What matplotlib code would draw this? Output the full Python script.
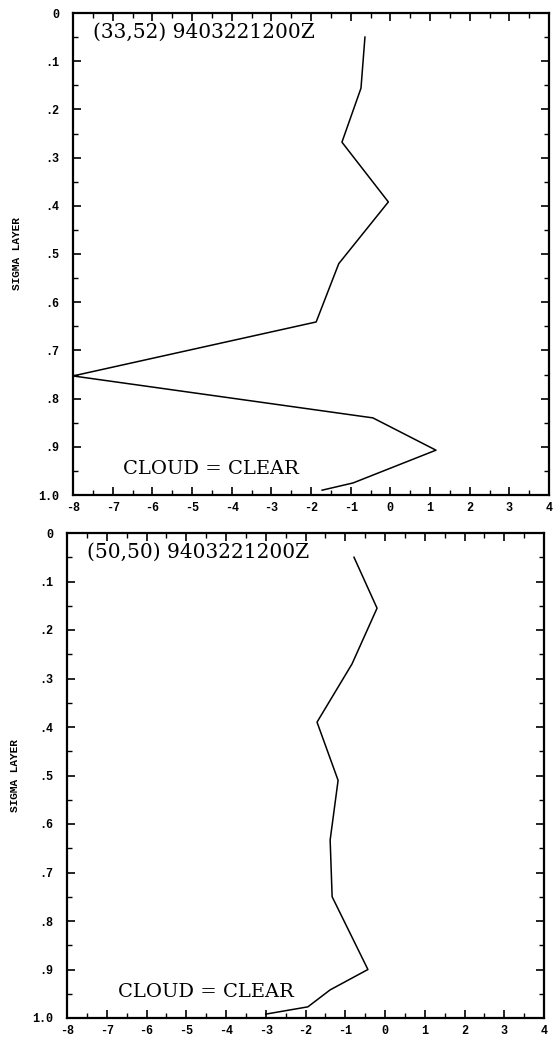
import matplotlib
matplotlib.use('Agg')
import matplotlib.pyplot as plt
from matplotlib.ticker import MultipleLocator

# sigma-layer profiles
sigma_a = [0.05, 0.156, 0.268, 0.392, 0.52, 0.641, 0.753, 0.84, 0.907, 0.975, 0.99]
val_a   = [-0.64, -0.74, -1.22, -0.05, -1.3, -1.87, -8.0, -0.44, 1.15, -0.94, -1.72]

sigma_b = [0.05, 0.155, 0.27, 0.39, 0.51, 0.633, 0.75, 0.90, 0.942, 0.977, 0.992]
val_b   = [-0.78, -0.2, -0.83, -1.71, -1.18, -1.38, -1.33, -0.43, -1.38, -1.94, -3.0]

titles = ['(33,52) 9403221200Z', '(50,50) 9403221200Z']
cloud_text = 'CLOUD = CLEAR'

xticks = list(range(-8, 5))
xlabels = [str(v) for v in xticks]
yticks = [0, .1, .2, .3, .4, .5, .6, .7, .8, .9, 1.0]
ylabels = ['0', '.1', '.2', '.3', '.4', '.5', '.6', '.7', '.8', '.9', '1.0']

tickfont = {'family': 'Liberation Mono', 'weight': 'bold', 'size': 8.5}

fig = plt.figure(figsize=(5.6, 10.41), dpi=100)

### panel positions (fig fraction)
pos = [[73/560, 1-495/1041, 476/560, 482/1041],
       [67/560, 1-1018/1041, 477/560, 485/1041]]
ylab_x = [-0.107, -0.099]

for i, (sig, val) in enumerate([(sigma_a, val_a), (sigma_b, val_b)]):
    ax = fig.add_axes(pos[i])
    ax.plot(val, sig, 'k-', linewidth=1.1)

    ax.set_xlim(-8, 4)
    ax.set_ylim(1.0, 0)

    ax.set_xticks(xticks)
    ax.set_xticklabels(xlabels, fontdict=tickfont)
    ax.set_yticks(yticks)
    ax.set_yticklabels(ylabels, fontdict=tickfont)
    ax.xaxis.set_minor_locator(MultipleLocator(0.5))
    ax.yaxis.set_minor_locator(MultipleLocator(0.05))

    ax.tick_params(axis='both', which='major', direction='in', length=6, width=1.2,
                   top=True, right=True)
    ax.tick_params(axis='both', which='minor', direction='in', length=3.5, width=1.0,
                   top=True, right=True)
    ax.tick_params(axis='x', which='major', pad=5)
    ax.tick_params(axis='y', which='major', pad=10)

    for sp in ax.spines.values():
        sp.set_linewidth(1.6)

    ax.set_ylabel('SIGMA LAYER', fontdict={'family': 'Liberation Mono', 'weight': 'bold', 'size': 8})
    ax.yaxis.set_label_coords(ylab_x[i], 0.5)

    ax.text(0.042, 0.961, titles[i], transform=ax.transAxes, ha='left', va='center',
            family='DejaVu Serif', fontsize=14.5)
    ax.text(0.106, 0.053, cloud_text, transform=ax.transAxes, ha='left', va='center',
            family='DejaVu Serif', fontsize=14)

plt.savefig('out.png', dpi=100)
